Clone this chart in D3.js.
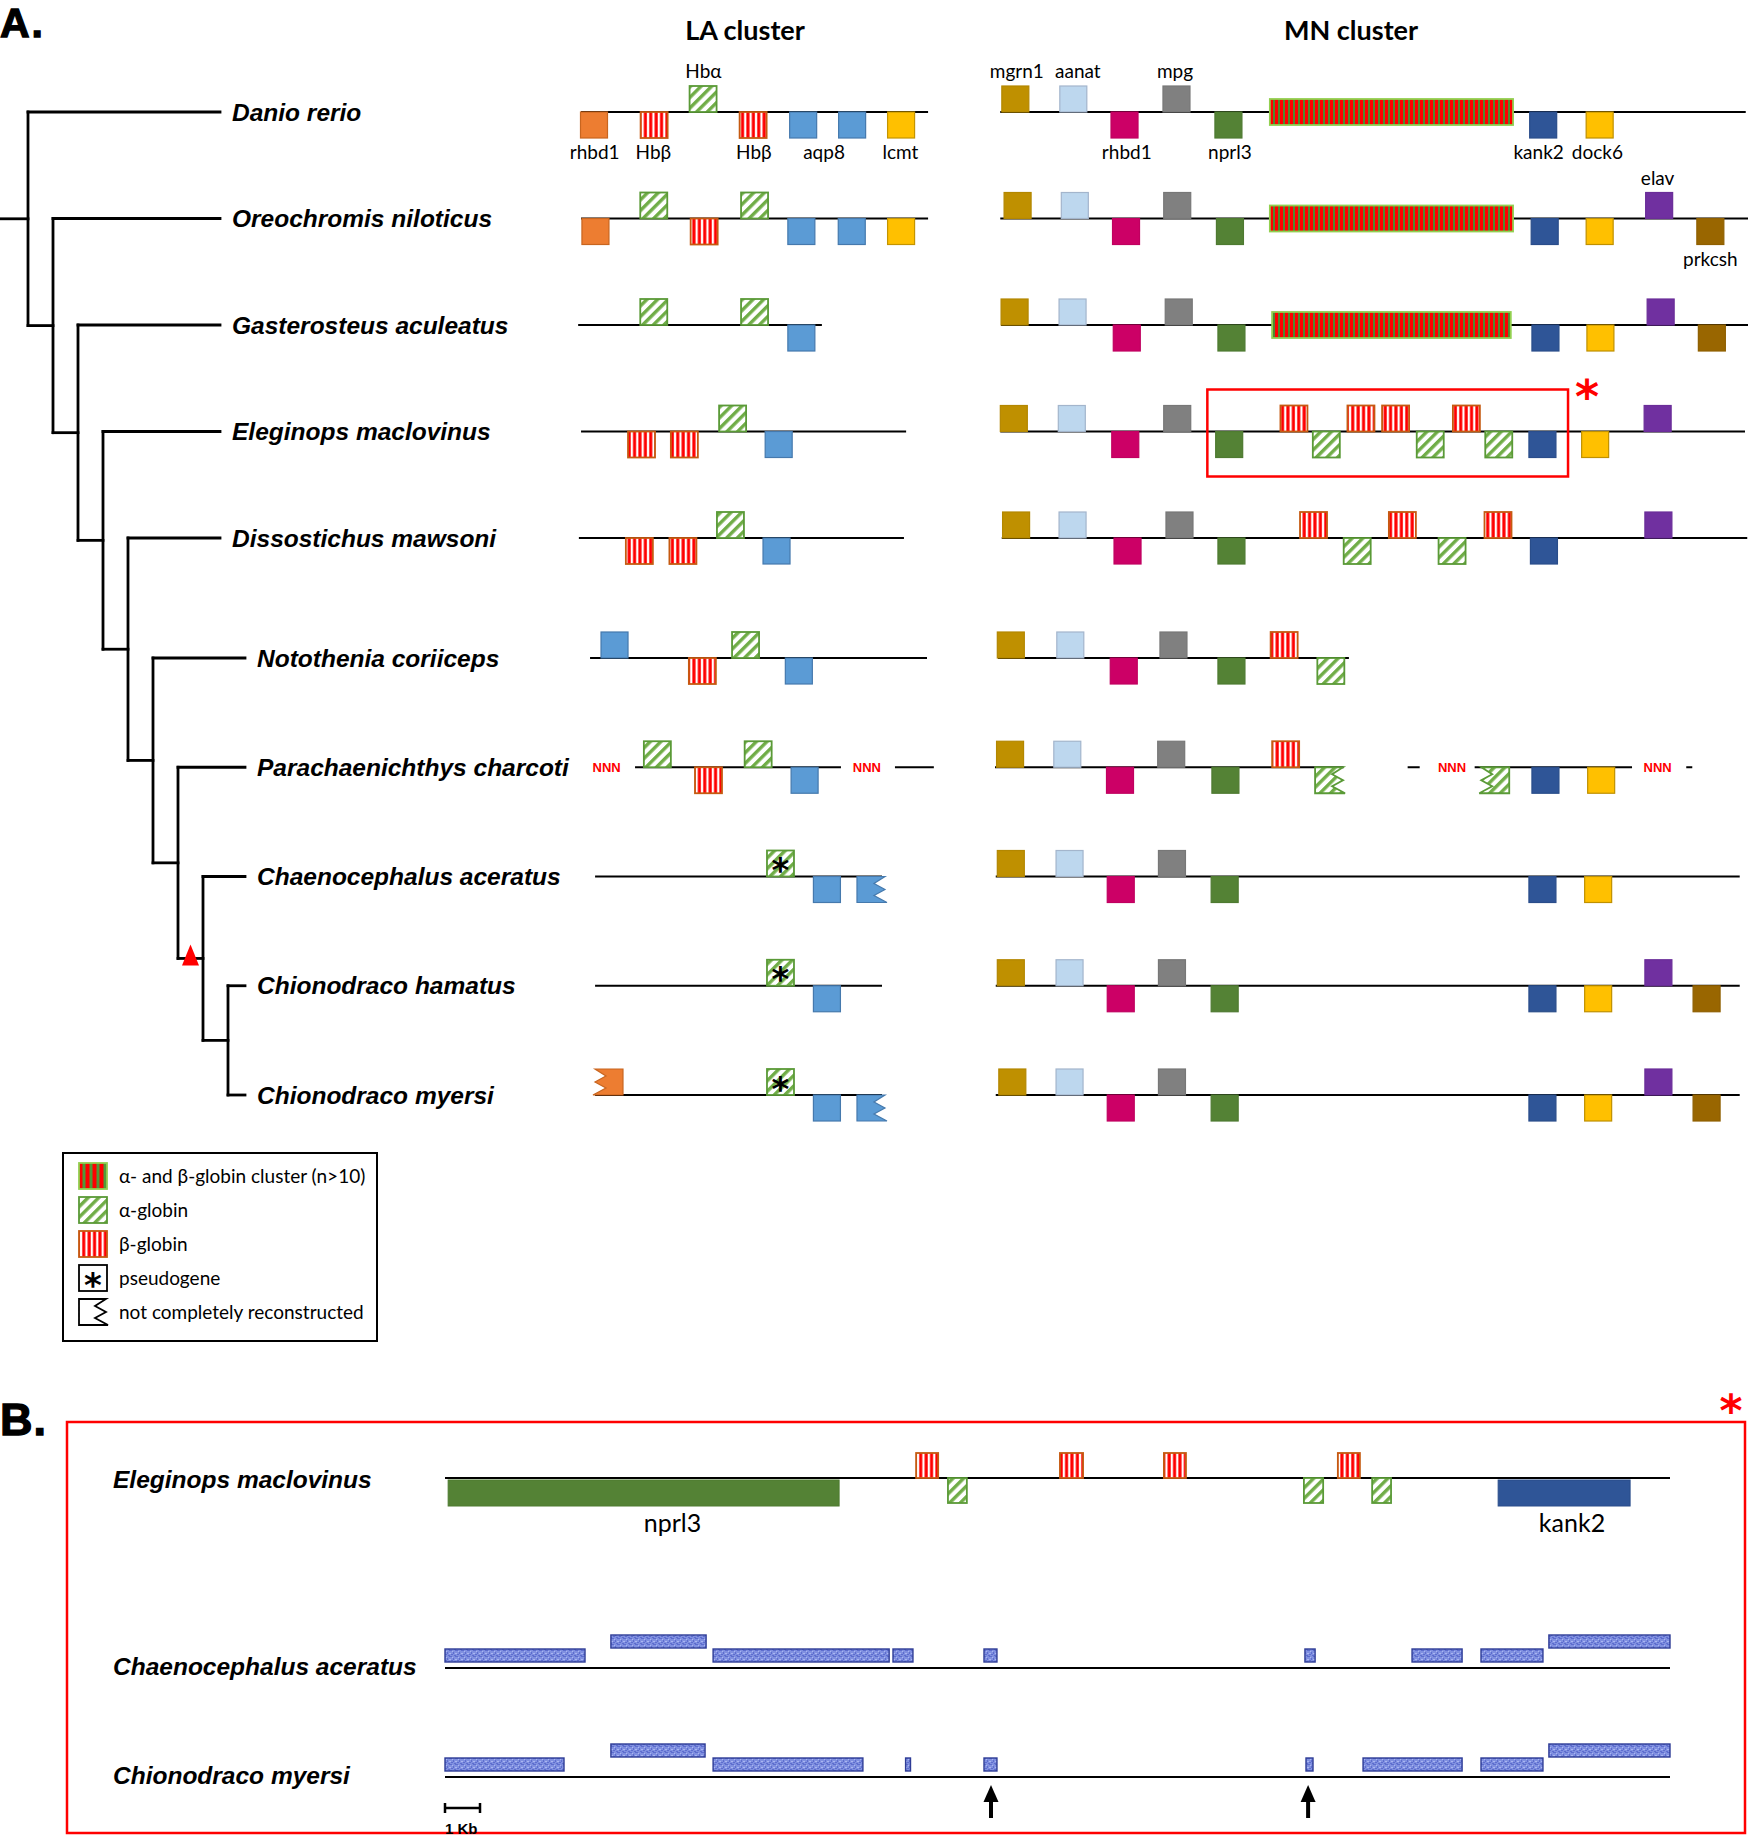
<!DOCTYPE html>
<html><head><meta charset="utf-8">
<script src="https://cdn.jsdelivr.net/npm/d3@7"></script>
<style>body{margin:0;background:#fff}svg{display:block}</style>
</head><body>
<svg id="c" width="1748" height="1836"></svg>
<script>
// ---------------- DATA ----------------
const species = ["Danio rerio","Oreochromis niloticus","Gasterosteus aculeatus","Eleginops maclovinus","Dissostichus mawsoni","Notothenia coriiceps","Parachaenichthys charcoti","Chaenocephalus aceratus","Chionodraco hamatus","Chionodraco myersi"];

// cladogram as nested pairs (leaf names), innermost first
const node8 = {children:[{name:"Chionodraco hamatus"},{name:"Chionodraco myersi"}]};
const node7 = {mark:"triangle", children:[{name:"Chaenocephalus aceratus"}, node8]};
const node6 = {children:[{name:"Parachaenichthys charcoti"}, node7]};
const node5 = {children:[{name:"Notothenia coriiceps"}, node6]};
const node4 = {children:[{name:"Dissostichus mawsoni"}, node5]};
const node3 = {children:[{name:"Eleginops maclovinus"}, node4]};
const node2 = {children:[{name:"Gasterosteus aculeatus"}, node3]};
const node1 = {children:[{name:"Oreochromis niloticus"}, node2]};
const phylogeny = {children:[{name:"Danio rerio"}, node1]};

// LA cluster: relative position along locus (0-100), strand u/d, partial side
const laLines = [[[1.4,97.8]],[[1.4,97.8]],[[0.6,68.3]],[[1.4,91.7]],[[0.8,91.1]],[[3.9,97.5]],[[16.4,73.6],[88.6,99.4]],[[5.3,85.0]],[[5.3,85.0]],[[5.3,85.0]]];
const laGenes = [
 [["rhbd1LA",5.0,"d"],["b",21.7,"d"],["a",35.3,"u"],["b",49.2,"d"],["aqp8",63.1,"d"],["aqp8",76.7,"d"],["lcmt",90.3,"d"]],
 [["rhbd1LA",5.4,"d"],["a",21.6,"u"],["b",35.6,"d"],["a",49.6,"u"],["aqp8",62.6,"d"],["aqp8",76.6,"d"],["lcmt",90.3,"d"]],
 [["a",21.6,"u"],["a",49.6,"u"],["aqp8",62.6,"d"]],
 [["b",18.2,"d"],["b",30.1,"d"],["a",43.5,"u"],["aqp8",56.3,"d"]],
 [["b",17.6,"d"],["b",29.7,"d"],["a",42.9,"u"],["aqp8",55.7,"d"]],
 [["aqp8",10.7,"u"],["b",35.1,"d"],["a",47.1,"u"],["aqp8",61.9,"d"]],
 [["a",22.6,"u"],["b",36.8,"d"],["a",50.6,"u"],["aqp8",63.5,"d"]],
 [["ap",56.8,"u"],["aqp8",69.7,"d"],["aqp8",81.8,"d","r"]],
 [["ap",56.8,"u"],["aqp8",69.7,"d"]],
 [["rhbd1LA",9.3,"u","l"],["ap",56.8,"u"],["aqp8",69.7,"d"],["aqp8",81.8,"d","r"]]
];
const laNNN = [[6,8.5],[6,80.8]];
const laLabels = [["rhbd1",5.2,"below",0],["Hbβ",21.5,"below",0],["Hbα",35.4,"above",0],["Hbβ",49.4,"below",0],["aqp8",68.9,"below",0],["lcmt",90.1,"below",0]];

// MN cluster
const mnLines = [[[0.7,99.7]],[[0.7,100]],[[0.8,100]],[[0.7,99.6]],[[0.9,99.9]],[[0.4,47.0]],[[0,46.3],[54.8,56.4],[63.7,84.6],[91.8,92.6]],[[0.1,98.9]],[[0.1,98.9]],[[0.1,98.9]]];
const mnGenes = [
 [["mgrn1",2.7,"u"],["aanat",10.4,"u"],["rhbd1",17.2,"d"],["mpg",24.1,"u"],["nprl3",31.0,"d"],["kank2",72.8,"d"],["dock6",80.3,"d"]],
 [["mgrn1",3.0,"u"],["aanat",10.6,"u"],["rhbd1",17.4,"d"],["mpg",24.2,"u"],["nprl3",31.2,"d"],["kank2",73.0,"d"],["dock6",80.3,"d"],["elav",88.2,"u"],["prkcsh",95.0,"d"]],
 [["mgrn1",2.6,"u"],["aanat",10.3,"u"],["rhbd1",17.5,"d"],["mpg",24.4,"u"],["nprl3",31.4,"d"],["kank2",73.1,"d"],["dock6",80.4,"d"],["elav",88.4,"u"],["prkcsh",95.2,"d"]],
 [["mgrn1",2.5,"u"],["aanat",10.2,"u"],["rhbd1",17.3,"d"],["mpg",24.2,"u"],["nprl3",31.1,"d"],["b",39.7,"u"],["a",44.0,"d"],["b",48.6,"u"],["b",53.2,"u"],["a",57.8,"d"],["b",62.6,"u"],["a",66.9,"d"],["kank2",72.7,"d"],["dock6",79.7,"d"],["elav",88.0,"u"]],
 [["mgrn1",2.8,"u"],["aanat",10.3,"u"],["rhbd1",17.6,"d"],["mpg",24.5,"u"],["nprl3",31.4,"d"],["b",42.3,"u"],["a",48.1,"d"],["b",54.1,"u"],["a",60.7,"d"],["b",66.8,"u"],["kank2",72.9,"d"],["elav",88.1,"u"]],
 [["mgrn1",2.1,"u"],["aanat",10.0,"u"],["rhbd1",17.1,"d"],["mpg",23.7,"u"],["nprl3",31.4,"d"],["b",38.4,"u"],["a",44.6,"d"]],
 [["mgrn1",2.0,"u"],["aanat",9.6,"u"],["rhbd1",16.6,"d"],["mpg",23.4,"u"],["nprl3",30.6,"d"],["b",38.6,"u"],["a",44.3,"d","r"],["a",66.5,"d","l"],["kank2",73.1,"d"],["dock6",80.5,"d"]],
 [["mgrn1",2.1,"u"],["aanat",9.9,"u"],["rhbd1",16.7,"d"],["mpg",23.5,"u"],["nprl3",30.5,"d"],["kank2",72.7,"d"],["dock6",80.1,"d"]],
 [["mgrn1",2.1,"u"],["aanat",9.9,"u"],["rhbd1",16.7,"d"],["mpg",23.5,"u"],["nprl3",30.5,"d"],["kank2",72.7,"d"],["dock6",80.1,"d"],["elav",88.1,"u"],["prkcsh",94.5,"d"]],
 [["mgrn1",2.3,"u"],["aanat",9.9,"u"],["rhbd1",16.7,"d"],["mpg",23.5,"u"],["nprl3",30.5,"d"],["kank2",72.7,"d"],["dock6",80.1,"d"],["elav",88.1,"u"],["prkcsh",94.5,"d"]]
];
const mnClusters = [[0,36.5,68.8],[1,36.5,68.8],[2,36.8,68.5]];
const mnNNN = [[6,60.7],[6,88.0]];
const mnLabels = [["mgrn1",2.9,"above",0],["aanat",11.0,"above",0],["mpg",23.9,"above",0],["rhbd1",17.5,"below",0],["nprl3",31.2,"below",0],["kank2",72.2,"below",0],["dock6",80.0,"below",0],["elav",88.0,"above",1],["prkcsh",95.0,"below",1]];
const mnHighlight = [3,28.2,76.1];

const legendItems = [["cluster","α- and β-globin cluster (n>10)"],["a","α-globin"],["b","β-globin"],["pseudo","pseudogene"],["partial","not completely reconstructed"]];

// Panel B (kb)
const bSpecies = ["Eleginops maclovinus","Chaenocephalus aceratus","Chionodraco myersi"];
const bGenes = [["nprl3",0.09,11.26,"d"],["b",13.46,14.09,"u"],["a",14.37,14.91,"d"],["b",17.57,18.23,"u"],["b",20.54,21.17,"u"],["a",24.54,25.09,"d"],["b",25.51,26.14,"u"],["a",26.49,27.03,"d"],["kank2",30.09,33.86,"d"]];
const bGeneLabels = [["nprl3",6.5],["kank2",32.2]];
const bBlocksChaeno = [[0,4.0,0],[4.74,7.46,1],[7.66,12.69,0],[12.8,13.37,0],[15.4,15.77,0],[24.57,24.86,0],[27.63,29.06,0],[29.6,31.37,0],[31.54,35.0,1]];
const bBlocksMyersi = [[0,3.4,0],[4.74,7.43,1],[7.66,11.94,0],[13.16,13.3,0],[15.4,15.77,0],[24.6,24.8,0],[26.23,29.06,0],[29.6,31.37,0],[31.54,35.0,1]];
const bArrows = [15.6,24.66];
const bLocusKb = [0,35];
const bScaleBarKb = 1;

// ---------------- DRAW ----------------
const svg = d3.select("#c");
svg.append("rect").attr("width",1748).attr("height",1836).attr("fill","#fff");
const defs = svg.append("defs");
function stripes(id,w,bg,fg,fx,fw,rot){
  const p = defs.append("pattern").attr("id",id).attr("patternUnits","userSpaceOnUse").attr("width",w).attr("height",w);
  if(rot) p.attr("patternTransform","rotate("+rot+")");
  p.append("rect").attr("width",w).attr("height",w).attr("fill",bg);
  p.append("rect").attr("x",fx).attr("width",fw).attr("height",w).attr("fill",fg);
}
stripes("patB",5.4,"#fff","#ff0000",1.2,3.1);
stripes("patA",7.5,"#fff","#70ad47",0,3.4,45);
stripes("patC",5,"#ff0000","#4f8a2f",3,2);
stripes("patC2",7,"#4f9a3a","#ff0000",1.5,4);
(function(){
  const p = defs.append("pattern").attr("id","patK").attr("patternUnits","userSpaceOnUse").attr("width",6).attr("height",6);
  p.append("rect").attr("width",6).attr("height",6).attr("fill","#8090e0");
  [[0,0,2,1],[3,2,1,2],[1,4,2,1],[4,5,2,1],[5,0,1,1]].forEach(r=>p.append("rect").attr("x",r[0]).attr("y",r[1]).attr("width",r[2]).attr("height",r[3]).attr("fill","#5d6dce"));
  [[2,1,1,1],[5,3,1,1],[0,3,1,1]].forEach(r=>p.append("rect").attr("x",r[0]).attr("y",r[1]).attr("width",r[2]).attr("height",r[3]).attr("fill","#aab6f2"));
})();

const geneStyle = {
 rhbd1LA:["#ed7d31","#c8651f"], aqp8:["#5b9bd5","#4579ad"], lcmt:["#ffc000","#c49400"],
 a:["url(#patA)","#5a9a37"], ap:["url(#patA)","#5a9a37"], b:["url(#patB)","#c55a11"],
 mgrn1:["#bf9000","#b38700"], aanat:["#bdd7ee","#a3b5cc"], rhbd1:["#cc0066","#c00060"],
 mpg:["#808080","#777"], nprl3:["#548235","#4e7a31"], kank2:["#2f5597","#2a4d8a"],
 dock6:["#ffc000","#bf9000"], elav:["#7030a0","#6a2d98"], prkcsh:["#996600","#8f5f00"]
};
const W = 27, H = 26;
const F_SPEC = "'Liberation Sans', Arial, sans-serif";
const F_LAB = "Lato, 'Open Sans', sans-serif";
const SPEC_SIZE = 24.5;

const rowY = d3.scaleLinear().domain([0,4,5,9]).range([112,538,658,1095]);
const laX = d3.scaleLinear().domain([0,100]).range([576,936]);
const mnX = d3.scaleLinear().domain([0,100]).range([995,1748]);
const depthX = d3.scaleLinear().domain([0,8]).range([28,228]);

function zigPath(x0,y0,x1,y1,side){
  const h=y1-y0;
  if(side==="r") return `M${x0},${y0}L${x1+1},${y0}L${x1-10},${y0+h*0.27}L${x1+1},${y0+h*0.5}L${x1-10},${y0+h*0.73}L${x1+3},${y1}L${x0},${y1}Z`;
  return `M${x1},${y0}L${x0-1},${y0}L${x0+10},${y0+h*0.27}L${x0-1},${y0+h*0.5}L${x0+10},${y0+h*0.73}L${x0-3},${y1}L${x1},${y1}Z`;
}
function asterisk(g,cx,cy,size,color){
  g.append("text").attr("x",cx).attr("y",cy+size*0.55).attr("text-anchor","middle")
   .attr("font-family","'DejaVu Sans', sans-serif").attr("font-weight","bold").attr("font-size",size).attr("fill",color).text("*");
}
function drawGene(g,type,cx,y,strand,flag,w,h){
  w = w||W; h = h||H;
  const st = geneStyle[type];
  const x0 = cx-w/2, x1 = cx+w/2;
  const y0 = strand==="u" ? y-h : y, y1 = y0+h;
  let el;
  if(flag) el = g.append("path").attr("d",zigPath(x0,y0,x1,y1,flag));
  else el = g.append("rect").attr("x",x0).attr("y",y0).attr("width",w).attr("height",h);
  el.attr("fill",st[0]).attr("stroke",st[1]).attr("stroke-width",(type==="a"||type==="b"||type==="ap")?1.8:1.2);
  if(type==="ap") asterisk(g,cx,y0+h/2,34,"#000");
}

// Titles
svg.append("text").attr("x",0).attr("y",37).attr("font-family",F_SPEC).attr("font-weight","bold").attr("font-size",41)
  .attr("letter-spacing",2).attr("stroke","#000").attr("stroke-width",1.3).text("A.");
svg.append("text").attr("x",0).attr("y",1435).attr("font-family",F_SPEC).attr("font-weight","bold").attr("font-size",45)
  .attr("letter-spacing",1).attr("stroke","#000").attr("stroke-width",1.3).text("B.");
svg.append("text").attr("x",745).attr("y",40).attr("text-anchor","middle").attr("font-family",F_LAB).attr("font-weight","bold").attr("font-size",27).text("LA cluster");
svg.append("text").attr("x",1351).attr("y",40).attr("text-anchor","middle").attr("font-family",F_LAB).attr("font-weight","bold").attr("font-size",27).text("MN cluster");

// Tree
const root = d3.hierarchy(phylogeny);
const labelX = n => n.depth<=5 ? 232 : 257;
root.eachAfter(n=>{
  if(!n.children) n.y = rowY(species.indexOf(n.data.name));
  else n.y = (n.children[0].y + n.children[n.children.length-1].y)/2;
  n.x = depthX(n.depth);
});
const tg = svg.append("g").attr("stroke","#000").attr("stroke-width",2.8).attr("fill","none").attr("stroke-linecap","square");
tg.append("line").attr("x1",1).attr("x2",root.x).attr("y1",root.y).attr("y2",root.y);
root.each(n=>{
  if(!n.children) return;
  const ys = n.children.map(c=>c.y);
  tg.append("line").attr("x1",n.x).attr("x2",n.x).attr("y1",d3.min(ys)).attr("y2",d3.max(ys));
  n.children.forEach(c=>{
    const xe = c.children ? c.x : labelX(c)-12;
    tg.append("line").attr("x1",n.x).attr("x2",xe).attr("y1",c.y).attr("y2",c.y);
  });
});
root.each(n=>{
  if(n.data.mark==="triangle"){
    const cx = (n.parent.x+n.x)/2, y = n.y;
    svg.append("path").attr("d",`M${cx-8.5},${y+7}L${cx+8.5},${y+7}L${cx},${y-14}Z`).attr("fill","#ff0000");
  }
});
root.leaves().forEach(n=>{
  svg.append("text").attr("x",labelX(n)).attr("y",n.y+8.5).attr("font-family",F_SPEC).attr("font-weight","bold").attr("font-style","italic").attr("font-size",SPEC_SIZE).text(n.data.name);
});

// Loci
function drawLocus(lines,nnn,xs){
  const g = svg.append("g");
  lines.forEach((segs,i)=>{
    const y = rowY(i);
    segs.forEach(s=>g.append("line").attr("x1",xs(s[0])).attr("x2",xs(s[1])).attr("y1",y).attr("y2",y).attr("stroke","#000").attr("stroke-width",2));
  });
  nnn.forEach(d=>g.append("text").attr("x",xs(d[1])).attr("y",rowY(d[0])+4.5).attr("text-anchor","middle").attr("font-family",F_SPEC).attr("font-weight","bold").attr("font-size",13).attr("fill","#ff0000").text("NNN"));
  return g;
}
const laG = drawLocus(laLines,laNNN,laX);
laGenes.forEach((row,i)=>row.forEach(d=>drawGene(laG,d[0],laX(d[1]),rowY(i),d[2],d[3])));
const mnG = drawLocus(mnLines,mnNNN,mnX);
mnClusters.forEach(d=>{
  const y = rowY(d[0]);
  mnG.append("rect").attr("x",mnX(d[1])).attr("width",mnX(d[2])-mnX(d[1])).attr("y",y-H/2).attr("height",H)
    .attr("fill","url(#patC)").attr("stroke","#92d050").attr("stroke-width",1.8);
});
mnGenes.forEach((row,i)=>row.forEach(d=>drawGene(mnG,d[0],mnX(d[1]),rowY(i),d[2],d[3])));

function geneLabels(arr,xs){
  arr.forEach(d=>{
    const y = rowY(d[3]);
    svg.append("text").attr("x",xs(d[1])).attr("y",d[2]==="above"? y-34 : y+47).attr("text-anchor","middle")
      .attr("font-family",F_LAB).attr("font-size",19).text(d[0]);
  });
}
geneLabels(laLabels,laX);
geneLabels(mnLabels,mnX);

// highlight box + asterisk
{
  const y = rowY(mnHighlight[0]);
  svg.append("rect").attr("x",mnX(mnHighlight[1])).attr("width",mnX(mnHighlight[2])-mnX(mnHighlight[1]))
    .attr("y",y-42).attr("height",87).attr("fill","none").attr("stroke","#ff0000").attr("stroke-width",2.5);
  asterisk(svg,mnX(mnHighlight[2])+19,y-44,46,"#ff0000");
}

// Legend
{
  const lg = svg.append("g");
  lg.append("rect").attr("x",63).attr("y",1153).attr("width",314).attr("height",188).attr("fill","#fff").attr("stroke","#000").attr("stroke-width",2);
  const ly = d3.scaleLinear().domain([0,4]).range([1176,1312]);
  legendItems.forEach((d,i)=>{
    const cy = ly(i), x0 = 79, w = 28, h = 26, y0 = cy-h/2;
    if(d[0]==="cluster") lg.append("rect").attr("x",x0).attr("y",y0).attr("width",w).attr("height",h).attr("fill","url(#patC2)").attr("stroke","#92d050").attr("stroke-width",1.8);
    else if(d[0]==="a"||d[0]==="b") lg.append("rect").attr("x",x0).attr("y",y0).attr("width",w).attr("height",h).attr("fill",geneStyle[d[0]][0]).attr("stroke",geneStyle[d[0]][1]).attr("stroke-width",1.8);
    else if(d[0]==="pseudo"){ lg.append("rect").attr("x",x0).attr("y",y0).attr("width",w).attr("height",h).attr("fill","#fff").attr("stroke","#000").attr("stroke-width",1.8); asterisk(lg,x0+w/2,cy,34,"#000"); }
    else lg.append("path").attr("d",zigPath(x0,y0,x0+w-2,y0+h,"r")).attr("fill","#fff").attr("stroke","#000").attr("stroke-width",1.8);
    lg.append("text").attr("x",119).attr("y",cy+6.5).attr("font-family",F_LAB).attr("font-size",19).text(d[1]);
  });
}

// Panel B
{
  const kb = d3.scaleLinear().domain(bLocusKb).range([445,1670]);
  const bRow = d3.scaleOrdinal().domain(bSpecies).range([1478,1668,1777]);
  const bg = svg.append("g");
  bg.append("rect").attr("x",67).attr("y",1422).attr("width",1678).attr("height",411).attr("fill","none").attr("stroke","#ff0000").attr("stroke-width",2.5);
  asterisk(bg,1731,1402,44,"#ff0000");
  bSpecies.forEach((s,i)=>{
    const y = bRow(s);
    bg.append("line").attr("x1",kb(bLocusKb[0])).attr("x2",kb(bLocusKb[1])).attr("y1",y).attr("y2",y).attr("stroke","#000").attr("stroke-width",2);
    bg.append("text").attr("x",113).attr("y",y+(i===0?10:7)).attr("font-family",F_SPEC).attr("font-weight","bold").attr("font-style","italic").attr("font-size",SPEC_SIZE).text(s);
  });
  const ey = bRow(bSpecies[0]);
  bGenes.forEach(d=>{
    const x0 = kb(d[1]), x1 = kb(d[2]);
    const big = !(d[0]==="a"||d[0]==="b");
    const y0 = d[3]==="u" ? ey-25 : ey + (big?2:0);
    const h = big ? 26 : 25;
    bg.append("rect").attr("x",x0).attr("y",y0).attr("width",x1-x0).attr("height",h)
      .attr("fill",geneStyle[d[0]][0]).attr("stroke",geneStyle[d[0]][1]).attr("stroke-width",big?1:1.8);
  });
  bGeneLabels.forEach(d=>bg.append("text").attr("x",kb(d[1])).attr("y",ey+54).attr("text-anchor","middle").attr("font-family",F_LAB).attr("font-size",25).text(d[0]));
  [[bBlocksChaeno,bSpecies[1]],[bBlocksMyersi,bSpecies[2]]].forEach(([blocks,s])=>{
    const y = bRow(s);
    blocks.forEach(d=>{
      const y0 = d[2]===1 ? y-33 : y-19;
      bg.append("rect").attr("x",kb(d[0])).attr("y",y0).attr("width",Math.max(kb(d[1])-kb(d[0]),4)).attr("height",13)
        .attr("fill","url(#patK)").attr("stroke","#2e3c96").attr("stroke-width",1.4);
    });
  });
  const my = bRow(bSpecies[2]);
  bArrows.forEach(k=>{
    const x = kb(k);
    bg.append("line").attr("x1",x).attr("x2",x).attr("y1",my+41).attr("y2",my+22).attr("stroke","#000").attr("stroke-width",4);
    bg.append("path").attr("d",`M${x-7.5},${my+25}L${x+7.5},${my+25}L${x},${my+8}Z`).attr("fill","#000");
  });
  const sx0 = kb(0), sx1 = kb(bScaleBarKb), sy = 1808;
  bg.append("path").attr("d",`M${sx0},${sy-5}V${sy+5}M${sx0},${sy}H${sx1}M${sx1},${sy-5}V${sy+5}`).attr("stroke","#000").attr("stroke-width",2.5).attr("fill","none");
  bg.append("text").attr("x",sx0).attr("y",1834).attr("font-family",F_SPEC).attr("font-weight","bold").attr("font-size",15).text(bScaleBarKb+" Kb");
}
</script>
</body></html>
